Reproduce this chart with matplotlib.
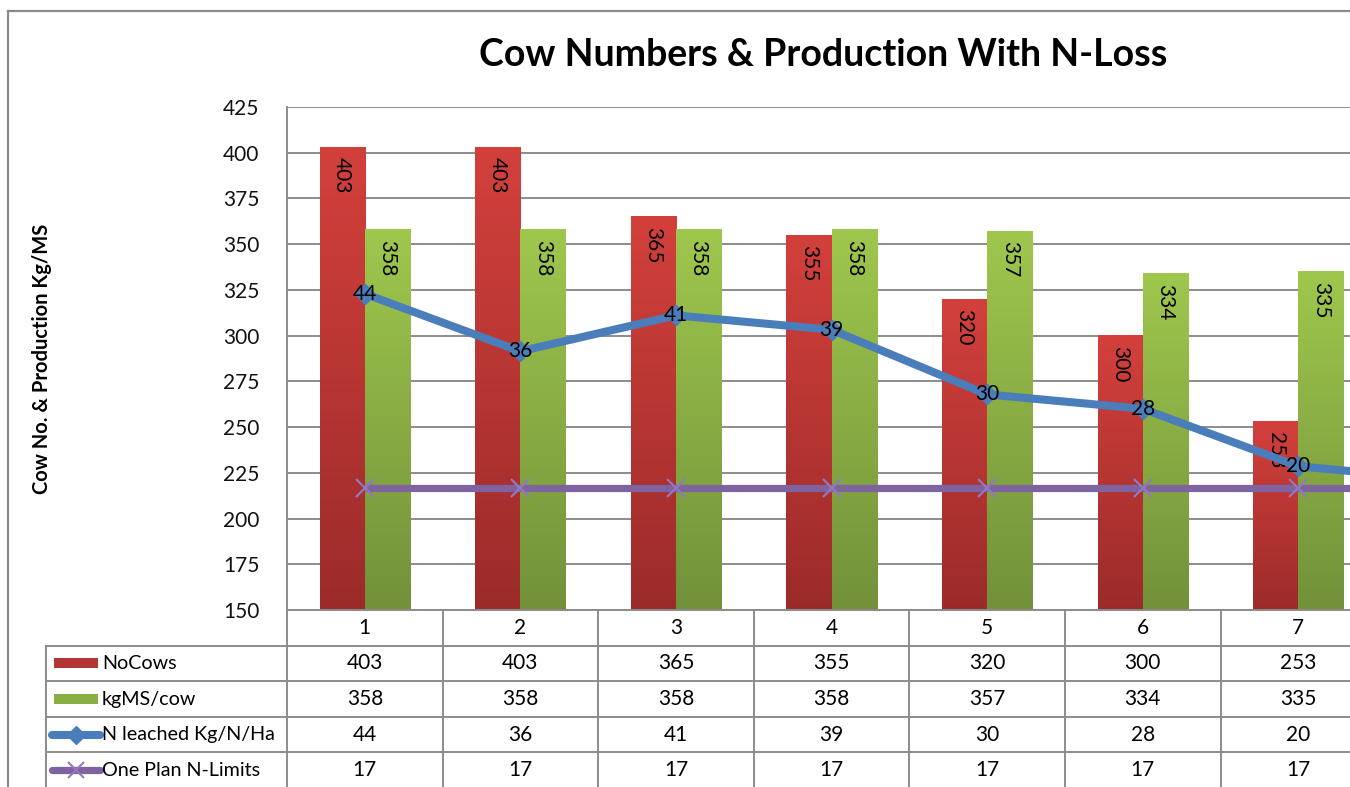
import numpy as np
import matplotlib.pyplot as plt
from matplotlib.lines import Line2D
from matplotlib.patches import Rectangle
from matplotlib.transforms import blended_transform_factory
from matplotlib.colors import LinearSegmentedColormap

plt.rcParams['font.family'] = ['Lato', 'DejaVu Sans']

# chart data
categories = ['1', '2', '3', '4', '5', '6', '7']
no_cows = [403, 403, 365, 355, 320, 300, 253]
kgms_per_cow = [358, 358, 358, 358, 357, 334, 335]
# the line series run one step further than the visible columns
n_leached = [44, 36, 41, 39, 30, 28, 20, 18]
n_limits = [17, 17, 17, 17, 17, 17, 17, 17]
series_names = ['NoCows', 'kgMS/cow', 'N leached Kg/N/Ha', 'One Plan N-Limits']

W, H = 1350, 787
COL_W = 155.6          # one category column, px
PLOT_L, PLOT_T, PLOT_B = 287, 107, 610
N_COLS = 8

RED_TOP, RED_BOT = '#D3403C', '#9B2B2A'
GRN_TOP, GRN_BOT = '#9FC74D', '#72913A'
BLUE = '#4A7EBB'
PURPLE = '#7F63A1'
GRID = '#8C8C8C'
FS = 15

fig = plt.figure(figsize=(W / 100, H / 100), dpi=100)
fig.patch.set_facecolor('white')

ax = fig.add_axes([PLOT_L / W, 1 - PLOT_B / H, N_COLS * COL_W / W, (PLOT_B - PLOT_T) / H])


def px_to_x(px):
    return -0.5 + (px - PLOT_L) / COL_W


x = np.arange(len(categories))
bw = 0.29


def gradient_bars(xs, vals, top, bot):
    cmap = LinearSegmentedColormap.from_list('g', [bot, top])
    grad = np.linspace(0, 1, 256).reshape(-1, 1)
    for xc, v in zip(xs, vals):
        ax.imshow(grad, extent=[xc - bw / 2, xc + bw / 2, 150, v], origin='lower',
                  aspect='auto', cmap=cmap, zorder=2, interpolation='bilinear')


gradient_bars(x - bw / 2, no_cows, RED_TOP, RED_BOT)
gradient_bars(x + bw / 2, kgms_per_cow, GRN_TOP, GRN_BOT)

# value labels, rotated and tucked inside the bar tops
for xc, v in zip(x - bw / 2, no_cows):
    ax.text(xc, v - 5.5, str(v), rotation=270, ha='center', va='top', fontsize=FS, zorder=3)
for xc, v in zip(x + bw / 2, kgms_per_cow):
    ax.text(xc, v - 5.5, str(v), rotation=270, ha='center', va='top', fontsize=FS, zorder=3)

ax.set_ylim(150, 425)
ax.set_yticks(np.arange(150, 426, 25))
ax.set_xticks([])
ax.yaxis.grid(True, color=GRID, lw=1.4)
ax.set_axisbelow(True)
ax.tick_params(axis='y', length=0, pad=20, labelsize=FS, labelcolor='#111111')
for s in ['top', 'right', 'bottom']:
    ax.spines[s].set_visible(False)
ax.spines['left'].set_color(GRID)
ax.spines['left'].set_linewidth(1.4)
ax.set_ylabel('Cow No. & Production Kg/MS', fontsize=14.5, fontweight='bold')
ax.yaxis.set_label_coords((52 - PLOT_L) / (N_COLS * COL_W), 0.5)

# secondary scale for the N series (not displayed)
ax2 = ax.twinx()
ax2.set_ylim(0, 70)
ax2.axis('off')
xl = np.arange(len(n_leached))
ax2.plot(xl, n_limits, color=PURPLE, lw=5.2, zorder=3, solid_capstyle='butt')
ax2.plot(xl, n_limits, ls='none', marker='x', ms=13, mew=1.6, color='#9378BE', zorder=4)
ax2.plot(xl, n_leached, color=BLUE, lw=5.8, marker='D', ms=10, mfc=BLUE, mec=BLUE, zorder=5)
for xc, v in zip(x, n_leached):
    ax2.text(xc, v, str(v), ha='center', va='center', fontsize=FS, zorder=6)

# data table below the plot
trans = blended_transform_factory(ax.transData, ax.transAxes)
rh = 35.6 / (PLOT_B - PLOT_T)
x_left = px_to_x(46)
x_right = -0.5 + N_COLS
lk = dict(color=GRID, lw=1.4, transform=trans, clip_on=False)

for k in range(N_COLS + 1):
    ax.add_line(Line2D([k - 0.5, k - 0.5], [0, -5 * rh], **lk))
ax.add_line(Line2D([x_left, x_left], [-rh, -5 * rh], **lk))
ax.add_line(Line2D([-0.5, x_right], [0, 0], **lk))
for r in range(1, 6):
    ax.add_line(Line2D([x_left, x_right], [-r * rh, -r * rh], **lk))

for xc, c in zip(x, categories):
    ax.text(xc, -0.5 * rh, c, ha='center', va='center', fontsize=FS, transform=trans, clip_on=False)
rows = [no_cows, kgms_per_cow, n_leached[:len(categories)], n_limits[:len(categories)]]
for r, vals in enumerate(rows, start=1):
    yc = -(r + 0.5) * rh
    for xc, v in zip(x, vals):
        ax.text(xc, yc, str(v), ha='center', va='center', fontsize=FS, transform=trans, clip_on=False)
    ax.text(px_to_x(102), yc, series_names[r - 1], ha='left', va='center', fontsize=14.2,
            transform=trans, clip_on=False)

# legend keys in the table
key_l, key_r = px_to_x(54), px_to_x(98)
kh = 10 / (PLOT_B - PLOT_T)
for r, col in [(1, '#B33634'), (2, '#88AD43')]:
    ax.add_patch(Rectangle((key_l, -(r + 0.5) * rh - kh / 2), key_r - key_l, kh,
                           facecolor=col, edgecolor='none', transform=trans, clip_on=False))
kx = [px_to_x(52), px_to_x(100)]
ax.add_line(Line2D(kx, [-3.5 * rh] * 2, color=BLUE, lw=5.8, solid_capstyle='round', transform=trans, clip_on=False))
ax.add_line(Line2D([np.mean(kx)], [-3.5 * rh], ls='none', marker='D', ms=9, color=BLUE, transform=trans, clip_on=False))
ax.add_line(Line2D(kx, [-4.5 * rh] * 2, color=PURPLE, lw=5.2, solid_capstyle='round', transform=trans, clip_on=False))
ax.add_line(Line2D([np.mean(kx)], [-4.5 * rh], ls='none', marker='x', ms=11, mew=1.5, color='#9378BE', transform=trans, clip_on=False))

ax.set_xlim(-0.5, N_COLS - 0.5)
ax.set_ylim(150, 425)

fig.text(823 / W, 1 - 55 / H, 'Cow Numbers & Production With N-Loss', ha='center', va='center',
         fontsize=27, fontweight='bold')

# chart frame
fig.add_artist(Line2D([8 / W, 8 / W], [0, 1 - 11 / H], color='#8A8A8A', lw=1.6))
fig.add_artist(Line2D([8 / W, 1], [1 - 11 / H, 1 - 11 / H], color='#8A8A8A', lw=1.6))

fig.savefig('out.png', dpi=100)
